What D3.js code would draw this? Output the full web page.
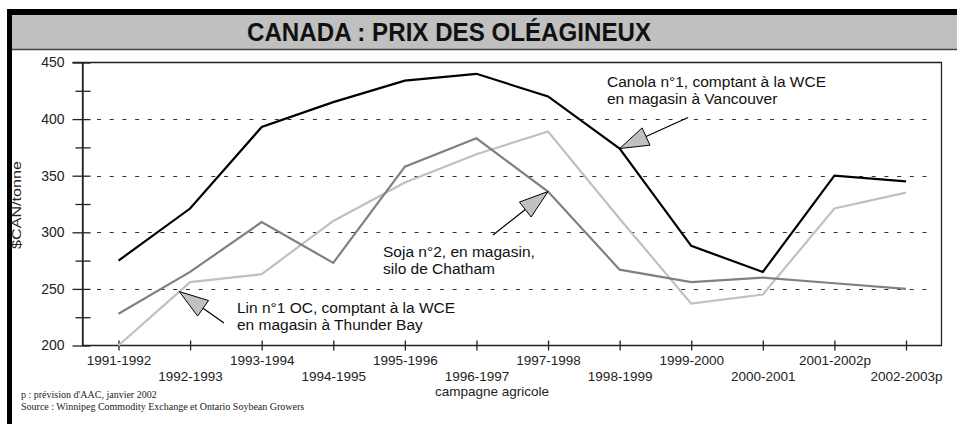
<!DOCTYPE html>
<html>
  <head>
    <title>Canada : prix des oléagineux</title>
    <script src="https://cdn.jsdelivr.net/npm/d3@7/dist/d3.min.js"></script>
    <style>
      body { margin: 0; background: #fff; }
    </style>
  </head>
  <body>
    <div id="main"></div>
    <script>
      var WIDTH = 957, HEIGHT = 424;
      var LEFT = 82.5, RIGHT = 941.5, TOP = 62.5, BOTTOM = 345.5;

      // campagnes agricoles
      var categories = ["1991-1992", "1992-1993", "1993-1994", "1994-1995", "1995-1996", "1996-1997",
                        "1997-1998", "1998-1999", "1999-2000", "2000-2001", "2001-2002p", "2002-2003p"];
      // $CAN/tonne
      var canola = [275, 321, 393, 415, 434, 440, 420, 374, 288, 265, 350, 345];
      var soja   = [228, 265, 309, 273, 358, 383, 336, 267, 256, 260, 255, 250];
      var lin    = [200, 256, 263, 310, 344, 369, 389, 312, 237, 245, 321, 335];

      var yMajor = [200, 250, 300, 350, 400, 450];
      var yMinor = [225, 275, 325, 375, 425];
      var yGrid  = [250, 300, 350, 400];

      var series = [
        { name: "lin",    values: lin,    color: "#c0c0c0" },
        { name: "soja",   values: soja,   color: "#808080" },
        { name: "canola", values: canola, color: "#000000" }
      ];

      // label text + where the arrow tail sits; tip = position along a series (fractional index)
      var notes = [
        { lines: ["Canola n°1, comptant à la WCE", "en magasin à Vancouver"], tx: 607, ty: 86.5,
          tail: [688, 117.5], series: "canola", at: 7 },
        { lines: ["Soja n°2, en magasin,", "silo de Chatham"], tx: 383, ty: 256.5,
          tail: [493, 235], series: "soja", at: 6 },
        { lines: ["Lin n°1 OC, comptant à la WCE", "en magasin à Thunder Bay"], tx: 237, ty: 312.5,
          tail: [224, 323], series: "lin", at: 0.85 }
      ];

      var svg = d3.select('#main').append('svg')
                  .attr('width', WIDTH).attr('height', HEIGHT)
                  .style('font-family', 'Liberation Sans, Arial, sans-serif');

      // frame + title band
      svg.append('rect').attr('x', 12).attr('y', 15).attr('width', WIDTH - 12).attr('height', 34)
         .attr('fill', '#c0c0c0');
      svg.append('rect').attr('x', 7).attr('y', 9).attr('width', WIDTH - 7).attr('height', 6).attr('fill', '#000');
      svg.append('rect').attr('x', 7).attr('y', 9).attr('width', 5).attr('height', HEIGHT - 9).attr('fill', '#000');
      svg.append('line').attr('x1', 12).attr('x2', WIDTH).attr('y1', 49.5).attr('y2', 49.5)
         .attr('stroke', '#444').attr('stroke-width', 1.5);
      svg.append('text').attr('x', 449).attr('y', 41).attr('text-anchor', 'middle')
         .attr('font-size', 25).attr('font-weight', 'bold').attr('fill', '#111')
         .attr('textLength', 404).attr('lengthAdjust', 'spacingAndGlyphs')
         .text('CANADA : PRIX DES OLÉAGINEUX');

      var x = d3.scalePoint().domain(categories).range([118.5, 906]);
      var y = d3.scaleLinear().domain([200, 450]).range([BOTTOM, TOP]);

      // dashed grid
      svg.append('g').selectAll('line').data(yGrid).enter().append('line')
         .attr('x1', 97).attr('x2', 935)
         .attr('y1', function(d) { return Math.round(y(d)) + 0.5; })
         .attr('y2', function(d) { return Math.round(y(d)) + 0.5; })
         .attr('stroke', '#333').attr('stroke-width', 1).attr('stroke-dasharray', '4,8.7');

      // plot box
      svg.append('path')
         .attr('d', 'M' + (LEFT - 10) + ',' + TOP + 'H' + RIGHT + 'V' + BOTTOM + 'H' + LEFT + 'V' + TOP)
         .attr('fill', 'none').attr('stroke', '#222').attr('stroke-width', 1.3);

      // y axis
      var yAxis = svg.append('g').attr('transform', 'translate(' + LEFT + ',0)')
         .call(d3.axisLeft(y).tickValues(yMajor).tickSizeInner(10).tickSizeOuter(0).tickPadding(8));
      yAxis.select('.domain').attr('stroke', '#222').attr('stroke-width', 1.3);
      yAxis.selectAll('.tick line').attr('x1', 8).attr('stroke', '#222').attr('stroke-width', 1.3);
      yAxis.selectAll('.tick text').attr('font-size', 14).attr('font-family', 'Liberation Sans, Arial, sans-serif')
         .attr('fill', '#222');

      var yMinorAxis = svg.append('g').attr('transform', 'translate(' + LEFT + ',0)')
         .call(d3.axisLeft(y).tickValues(yMinor).tickSizeInner(7).tickSizeOuter(0).tickFormat(''));
      yMinorAxis.select('.domain').remove();
      yMinorAxis.selectAll('.tick line').attr('x1', 8).attr('stroke', '#222').attr('stroke-width', 1.3);

      svg.append('text')
         .attr('transform', 'translate(21,205) rotate(-90)')
         .attr('text-anchor', 'middle').attr('font-size', 13).attr('fill', '#222')
         .attr('textLength', 88).attr('lengthAdjust', 'spacingAndGlyphs')
         .text('$CAN/tonne');

      // x axis
      var xAxis = svg.append('g').attr('transform', 'translate(0,' + BOTTOM + ')')
         .call(d3.axisBottom(x).tickSizeInner(5).tickSizeOuter(0));
      xAxis.select('.domain').remove();
      xAxis.selectAll('.tick line').attr('y1', -5).attr('stroke', '#222').attr('stroke-width', 1.3);
      xAxis.selectAll('.tick text')
         .attr('font-size', 13.5).attr('font-family', 'Liberation Sans, Arial, sans-serif').attr('fill', '#222')
         .attr('dy', 0)
         .attr('y', function(d, i) { return i % 2 === 0 ? 19 : 35; });

      svg.append('text').attr('x', 492).attr('y', 396).attr('text-anchor', 'middle')
         .attr('font-size', 13.5).attr('fill', '#222').text('campagne agricole');

      // lines
      var line = d3.line()
         .x(function(v, i) { return x(categories[i]); })
         .y(function(v) { return y(v); });

      svg.append('g').selectAll('path').data(series).enter().append('path')
         .attr('d', function(s) { return line(s.values); })
         .attr('fill', 'none')
         .attr('stroke', function(s) { return s.color; })
         .attr('stroke-width', 2.2)
         .attr('stroke-linejoin', 'miter');

      // annotations
      function pointAt(name, at) {
        var vals = series.filter(function(s) { return s.name === name; })[0].values;
        var i = Math.floor(at), f = at - i;
        var j = Math.min(i + 1, vals.length - 1);
        var px = x(categories[i]) + f * (x(categories[j]) - x(categories[i]));
        var py = y(vals[i] + f * (vals[j] - vals[i]));
        return [px, py];
      }

      notes.forEach(function(n) {
        var tip = pointAt(n.series, n.at);
        var dx = n.tail[0] - tip[0], dy = n.tail[1] - tip[1];
        var len = Math.sqrt(dx * dx + dy * dy);
        var ux = dx / len, uy = dy / len;
        var HL = 29, HW = 9.5;
        var bx = tip[0] + ux * HL, by = tip[1] + uy * HL;

        svg.append('line')
           .attr('x1', bx).attr('y1', by).attr('x2', n.tail[0]).attr('y2', n.tail[1])
           .attr('stroke', '#000').attr('stroke-width', 1.2);
        svg.append('path')
           .attr('d', 'M' + tip[0] + ',' + tip[1] +
                      'L' + (bx - uy * HW) + ',' + (by + ux * HW) +
                      'L' + (bx + uy * HW) + ',' + (by - ux * HW) + 'Z')
           .attr('fill', '#c0c0c0').attr('stroke', '#000').attr('stroke-width', 1);

        var t = svg.append('text').attr('x', n.tx).attr('y', n.ty)
           .attr('font-size', 15.5).attr('fill', '#111');
        n.lines.forEach(function(l, k) {
          t.append('tspan').attr('x', n.tx).attr('y', n.ty + k * 17).text(l);
        });
      });

      // footnotes
      svg.append('text').attr('x', 21).attr('y', 397.5)
         .attr('font-family', 'Liberation Serif, Times New Roman, serif').attr('font-size', 10).attr('fill', '#222')
         .text("p : prévision d'AAC, janvier 2002");
      svg.append('text').attr('x', 21).attr('y', 409.5)
         .attr('font-family', 'Liberation Serif, Times New Roman, serif').attr('font-size', 10).attr('fill', '#222')
         .text('Source : Winnipeg Commodity Exchange et Ontario Soybean Growers');
    </script>
  </body>
</html>
